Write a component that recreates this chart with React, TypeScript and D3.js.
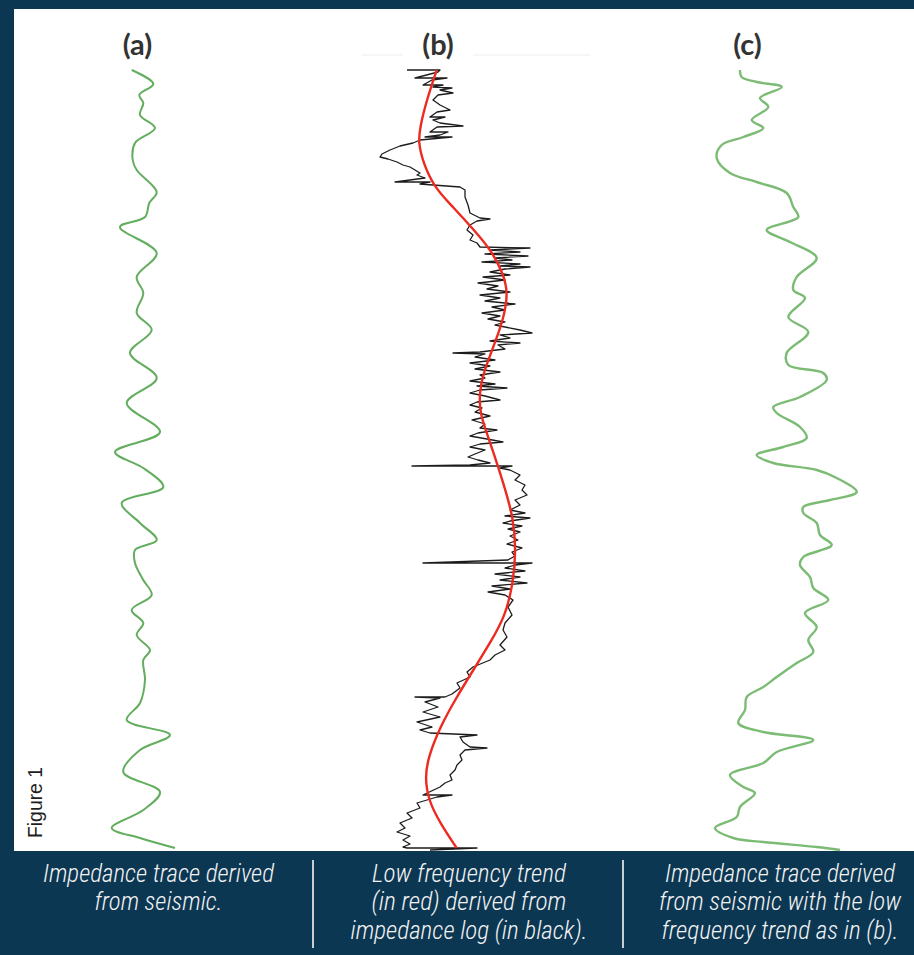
import React from 'react';
import * as d3 from 'd3';

// depth samples (ms below top of window) and trace values
const traceADepth = [0, 14, 25, 33, 45, 58, 73, 90, 100, 122, 133, 147, 157, 183, 207, 223, 243, 260, 283, 308, 333, 362, 382, 398, 417, 433, 453, 470, 480, 493, 510, 525, 540, 553, 565, 580, 590, 610, 633, 650, 665, 680, 702, 722, 740, 758, 768, 778];
const traceAValue = [131.7, 153.3, 139.3, 143.3, 140, 155, 135, 132.7, 136.7, 156.7, 149.3, 145, 120, 156.7, 136.7, 143.3, 136.7, 151.7, 130, 156.7, 126.7, 160, 115, 143.3, 163.3, 121.7, 140, 156.7, 135, 135, 143.3, 151.7, 131.7, 143.3, 136.7, 150, 143.3, 145, 140, 126.7, 170, 140, 123.3, 160, 143.3, 111.7, 140, 175];

const traceCDepth = [0, 7, 12, 17, 28, 37, 50, 58, 67, 75, 88, 103, 112, 123, 137, 147, 160, 172, 188, 207, 220, 228, 247, 262, 283, 295, 303, 310, 327, 337, 343, 357, 368, 377, 385, 393, 400, 408, 422, 430, 437, 443, 453, 465, 475, 487, 495, 507, 518, 530, 543, 557, 570, 582, 593, 607, 617, 627, 640, 653, 662, 670, 682, 693, 705, 717, 723, 737, 747, 758, 768, 772, 777, 780];
const traceCValue = [740, 741.7, 756.7, 781.7, 760, 768.3, 751.7, 763.3, 743.3, 721.7, 716.7, 730, 756.7, 786.7, 793.3, 798.3, 766.7, 790, 816.7, 796.7, 793.3, 805, 788.3, 808.3, 786.7, 788.3, 823.3, 826.7, 800, 773.3, 776.7, 800, 806.7, 783.3, 756.7, 773.3, 816.7, 836.7, 856.7, 830, 803.3, 803.3, 816.7, 820, 831.7, 803.3, 800, 810, 813.3, 828.3, 805, 816.7, 808.3, 813.3, 796.7, 776.7, 763.3, 746.7, 745, 738.3, 763.3, 813.3, 776.7, 763.3, 730, 743.3, 755, 740, 736.7, 715, 733.3, 763.3, 816.7, 840];

const trendDepth = [0, 30, 57, 73, 93, 117, 137, 160, 180, 203, 223, 250, 277, 303, 323, 343, 363, 387, 413, 447, 480, 513, 547, 573, 600, 627, 657, 687, 707, 730, 753, 778];
const trendValue = [436.7, 426.7, 420, 418.3, 423.3, 434, 453, 474, 491, 503, 508.3, 503.3, 493.3, 483.3, 479.3, 480, 486.7, 495, 503.3, 513.3, 516, 513.3, 505, 490, 473.3, 456.7, 440, 428.3, 425, 428.3, 440, 456.7];

// impedance log: [depth, value]
const impedanceLog: [number, number][] = [
  [0, 407], [0, 440], [2, 438], [8, 415], [8, 447], [10, 432], [15, 423], [15, 443], [17, 433], [18, 452], [20, 440],
  [23, 453], [25, 438], [30, 433], [35, 440], [40, 450], [42, 437], [47, 430], [47, 445], [50, 433], [53, 440], [56, 463],
  [57, 437], [62, 430], [62, 448], [65, 440], [67, 425], [67, 452], [70, 420], [73, 413], [76, 400], [80, 390], [84, 382],
  [87, 380], [89, 388], [92, 397], [95, 403], [97, 410], [100, 415], [103, 420], [105, 417], [108, 425], [112, 395],
  [112, 430], [114, 420], [115, 433], [117, 460], [120, 465], [127, 465], [135, 468], [143, 470], [148, 480], [149, 490],
  [151, 477], [155, 470], [160, 467], [165, 473], [170, 470], [173, 477], [177, 480], [178, 530], [180, 490], [182, 520],
  [184, 485], [186, 528], [188, 495], [190, 512], [192, 482], [194, 520], [196, 500], [197, 530], [199, 505], [202, 490],
  [205, 510], [207, 483], [210, 505], [213, 478], [216, 498], [219, 487], [222, 510], [225, 480], [228, 500], [231, 485],
  [234, 515], [237, 492], [240, 505], [243, 482], [246, 500], [249, 488], [252, 505], [255, 495], [260, 520], [263, 532],
  [265, 500], [268, 510], [271, 490], [273, 520], [275, 498], [279, 505], [282, 480], [283, 453], [284, 485], [287, 475],
  [290, 495], [293, 470], [296, 490], [299, 475], [302, 500], [305, 480], [308, 485], [311, 470], [314, 495], [316, 477],
  [318, 507], [320, 480], [323, 470], [326, 485], [330, 500], [332, 477], [335, 470], [338, 482], [342, 475], [346, 490],
  [350, 472], [354, 485], [358, 480], [360, 497], [363, 478], [366, 470], [369, 487], [372, 503], [374, 480], [377, 470],
  [380, 485], [384, 475], [387, 468], [390, 478], [393, 490], [395, 470], [396, 412], [396, 512], [398, 500], [400, 510],
  [405, 520], [410, 515], [415, 525], [420, 522], [425, 527], [430, 515], [435, 520], [440, 510], [443, 525], [446, 505],
  [448, 530], [451, 510], [453, 503], [456, 522], [459, 508], [462, 520], [466, 510], [470, 518], [474, 507], [478, 522],
  [482, 512], [486, 515], [490, 508], [493, 423], [493, 532], [495, 515], [498, 505], [501, 525], [504, 495], [507, 520],
  [510, 500], [513, 527], [516, 492], [519, 510], [522, 488], [525, 505], [530, 513], [537, 508], [545, 512], [553, 505],
  [560, 503], [567, 507], [575, 500], [580, 505], [585, 495], [590, 490], [597, 473], [602, 467], [607, 470], [613, 457],
  [618, 460], [624, 452], [627, 445], [627, 415], [628, 440], [632, 425], [637, 438], [642, 423], [647, 440], [652, 417],
  [657, 432], [660, 420], [663, 430], [665, 477], [667, 460], [672, 463], [677, 470], [678, 487], [680, 465], [685, 460],
  [690, 462], [695, 457], [700, 455], [705, 450], [710, 452], [713, 445], [717, 440], [725, 423], [725, 452], [727, 437],
  [733, 417], [738, 420], [743, 407], [748, 412], [753, 400], [758, 405], [762, 397], [766, 410], [770, 403], [774, 410],
  [777, 403], [778, 407], [778, 477], [780, 430],
];

const panelTitles = ['(a)', '(b)', '(c)'];
const titleX = [137.5, 438, 747.5];

const captions = [
  ['Impedance trace derived', 'from seismic.'],
  ['Low frequency trend', '(in red) derived from', 'impedance log (in black).'],
  ['Impedance trace derived', 'from seismic with the low', 'frequency trend as in (b).'],
];
const captionWidths = [[231, 128], [194, 195, 237], [230, 242, 237]];

const W = 914;
const H = 955;
const NAVY = '#0c3752';

export default function App() {
  const x = d3.scaleLinear().domain([0, W]).range([0, W]);
  const y = d3.scaleLinear().domain([0, 780]).range([70, 850]);

  const traceA = d3.line<number>()
    .x(i => x(traceAValue[i]))
    .y(i => y(traceADepth[i]))
    .curve(d3.curveCatmullRom.alpha(0.5))(d3.range(traceADepth.length));

  const traceC = d3.line<number>()
    .x(i => x(traceCValue[i]))
    .y(i => y(traceCDepth[i]))
    .curve(d3.curveCatmullRom.alpha(0.5))(d3.range(traceCDepth.length));

  const trend = d3.line<number>()
    .x(i => x(trendValue[i]))
    .y(i => y(trendDepth[i]))
    .curve(d3.curveBasis)(d3.range(trendDepth.length));

  const log = d3.line<[number, number]>()
    .x(d => x(d[1]))
    .y(d => y(d[0]))(impedanceLog);

  const captionCenters = [158.5, 469, 780];
  const dividers = [313, 623];

  return (
    <>
      <style>{'body{margin:0}svg{display:block}'}</style>
      <svg width={W} height={H} viewBox={`0 0 ${W} ${H}`}>
        <rect x={0} y={0} width={W} height={H} fill={NAVY} />
        <rect x={14} y={9} width={W - 14} height={842} fill="#ffffff" />

        <line x1={362} x2={403} y1={55} y2={55} stroke="#ededed" strokeWidth={1} />
        <line x1={473} x2={590} y1={55} y2={55} stroke="#ededed" strokeWidth={1} />

        {panelTitles.map((t, i) => (
          <text key={t} x={titleX[i]} y={55} textAnchor="middle"
            fontFamily="Lato, 'Open Sans', sans-serif" fontWeight={700} fontSize={29} fill="#333333">
            {t}
          </text>
        ))}

        <path d={traceA || ''} fill="none" stroke="#62ad5e" strokeWidth={2} strokeLinejoin="round" />
        <path d={log || ''} fill="none" stroke="#1c1c1c" strokeWidth={1.3} strokeLinejoin="round" />
        <path d={trend || ''} fill="none" stroke="#ec2a20" strokeWidth={2.4} />
        <path d={traceC || ''} fill="none" stroke="#7bbb74" strokeWidth={2.4} strokeLinejoin="round" />

        <text transform="translate(42,838) rotate(-90)" fontFamily="'Liberation Sans', Arial, sans-serif"
          fontSize={20} fill="#1e1e1e" textLength={71} lengthAdjust="spacingAndGlyphs">
          Figure 1
        </text>

        {dividers.map(dx => (
          <line key={dx} x1={dx} x2={dx} y1={860} y2={948} stroke="#c9ced3" strokeWidth={2} />
        ))}

        {captions.map((lines, i) => lines.map((ln, j) => (
          <text key={`${i}-${j}`} x={captionCenters[i]} y={882 + j * 28.3} textAnchor="middle"
            fontFamily="'Liberation Sans Narrow', 'Roboto Condensed', Roboto, sans-serif" fontStyle="italic"
            fontWeight={300} fontSize={25} fill="#f2f2f2" textLength={captionWidths[i][j]} lengthAdjust="spacingAndGlyphs">
            {ln}
          </text>
        )))}
      </svg>
    </>
  );
}
